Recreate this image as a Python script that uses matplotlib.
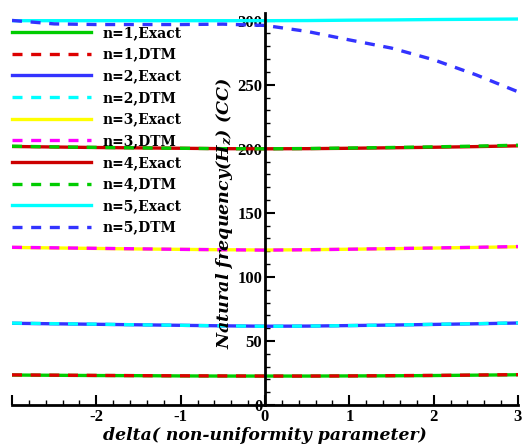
import matplotlib
matplotlib.use("Agg")
import matplotlib.pyplot as plt
import numpy as np

# delta (non-uniformity parameter)
delta = [-3, -2.5, -2, -1.5, -1, -0.5, 0, 0.5, 1, 1.5, 2, 2.5, 3]

# natural frequencies
n1_exact = [23.4, 23.2, 23.0, 22.9, 22.7, 22.6, 22.6, 22.6, 22.7, 22.8, 23.0, 23.3, 23.6]
n1_dtm = [23.5, 23.3, 23.1, 22.9, 22.8, 22.7, 22.6, 22.6, 22.7, 22.9, 23.1, 23.4, 23.7]
n2_exact = [63.8, 63.4, 63.0, 62.6, 62.2, 61.8, 61.5, 61.6, 62.0, 62.4, 62.9, 63.4, 64.0]
n2_dtm = [63.9, 63.5, 63.1, 62.6, 62.2, 61.8, 61.4, 61.6, 62.0, 62.4, 63.0, 63.5, 64.1]
n3_exact = [123.0, 122.6, 122.2, 121.8, 121.5, 121.2, 121.0, 121.2, 121.6, 122.0, 122.5, 123.0, 123.5]
n3_dtm = [123.1, 122.7, 122.3, 121.9, 121.5, 121.2, 120.9, 121.2, 121.6, 122.1, 122.6, 123.1, 123.7]
n4_exact = [201.8, 201.4, 201.0, 200.7, 200.4, 200.1, 200.0, 200.1, 200.4, 200.8, 201.2, 201.7, 202.3]
n4_dtm = [202.0, 201.5, 201.1, 200.7, 200.4, 200.1, 200.0, 200.2, 200.6, 201.0, 201.5, 202.1, 202.8]
n5_exact = [300.0, 300.0, 300.0, 300.0, 300.0, 300.0, 300.0, 300.1, 300.4, 300.6, 300.9, 301.1, 301.3]
n5_dtm = [300.2, 297.5, 297.0, 297.0, 297.0, 297.3, 296.3, 291.6, 285.0, 278.6, 269.5, 257.8, 244.5]

series = [
    (n1_exact, "#00cc00", "-", "n=1,Exact"),
    (n1_dtm, "#dd0000", "--", "n=1,DTM"),
    (n2_exact, "#3333ff", "-", "n=2,Exact"),
    (n2_dtm, "#00ffff", "--", "n=2,DTM"),
    (n3_exact, "#ffff00", "-", "n=3,Exact"),
    (n3_dtm, "#ff00ff", "--", "n=3,DTM"),
    (n4_exact, "#cc0000", "-", "n=4,Exact"),
    (n4_dtm, "#00cc00", "--", "n=4,DTM"),
    (n5_exact, "#00ffff", "-", "n=5,Exact"),
    (n5_dtm, "#3333ff", "--", "n=5,DTM"),
]

plt.rcParams["axes.unicode_minus"] = False
plt.rcParams["mathtext.fontset"] = "custom"
plt.rcParams["mathtext.it"] = "DejaVu Serif:italic:bold"
plt.rcParams["mathtext.rm"] = "DejaVu Serif:bold"

fig = plt.figure(figsize=(5.32, 4.46), dpi=100)
ax = fig.add_axes([12 / 532, 41 / 446, 506 / 532, 392 / 446])

for vals, col, ls, lab in series:
    if ls == "--":
        ax.plot(delta, vals, color=col, lw=2.4, linestyle=(0, (3, 2.6)), label=lab)
    else:
        ax.plot(delta, vals, color=col, lw=2.4, label=lab)

ax.set_xlim(-3, 3)
ax.set_ylim(0, 306)

ax.spines["top"].set_visible(False)
ax.spines["right"].set_visible(False)
ax.spines["left"].set_position(("data", 0))
ax.spines["left"].set_linewidth(2)
ax.spines["bottom"].set_linewidth(2)

ax.set_xticks([-3, -2, -1, 0, 1, 2, 3])
ax.set_xticklabels(["", "-2", "-1", "0", "1", "2", "3"])
ax.set_xticks(np.arange(-3, 3.01, 0.2), minor=True)
ax.set_yticks(range(0, 301, 50))
ax.set_yticks(range(0, 301, 10), minor=True)

ax.tick_params(which="both", direction="in", width=1.5)
ax.tick_params(which="major", length=7.5)
ax.tick_params(which="minor", length=3.8, width=1)
ax.tick_params(axis="y", pad=2)
ax.tick_params(axis="x", pad=3)
for t in ax.get_xticklabels() + ax.get_yticklabels():
    t.set_fontfamily("Liberation Serif")
    t.set_fontweight("bold")
    t.set_fontsize(12)

ax.set_xlabel("delta( non-uniformity parameter)", fontfamily="DejaVu Serif",
              fontweight="bold", fontstyle="italic", fontsize=12.4, labelpad=1)
ax.text(0.42, 0.49, r"Natural frequency(H$_z$) (CC)", transform=ax.transAxes,
        rotation=90, ha="center", va="center", fontfamily="DejaVu Serif",
        fontweight="bold", fontstyle="italic", fontsize=12.6)

ax.legend(loc="upper left", bbox_to_anchor=(0, 0.967), frameon=False,
          prop={"family": "DejaVu Serif", "weight": "bold", "size": 10},
          handlelength=5.7, handletextpad=0.85, labelspacing=0.55,
          borderpad=0, borderaxespad=0)

fig.savefig("out.png", dpi=100)
